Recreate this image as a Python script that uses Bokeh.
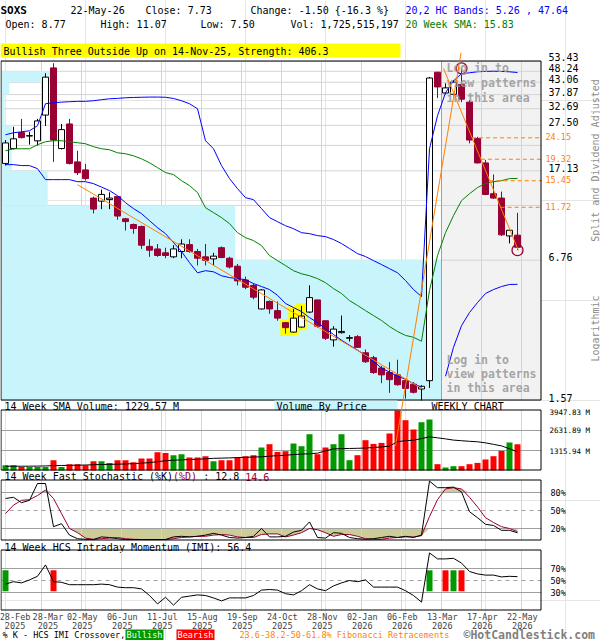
import math
import numpy as np
from bokeh.plotting import figure
from bokeh.models import Range1d, LogScale, LinearScale
from bokeh.embed import file_html
from bokeh.resources import INLINE
from bokeh.core.properties import value

FONT = "DejaVu Sans Mono"
NAN = float("nan")

# ---------------- weekly data, 28-Feb-2025 .. 22-May-2026 ----------------
symbol = "SOXS"
last_date = "22-May-26"

open_ = [18.5, 21.6, 25.5, 24.6, 23.4, 30.6, 50.0, 21.6, 27.9, 18.8,
         17.3, 12.9, 12.5, 12.7, 13.1, 10.4, 9.8, 9.6, 7.8, 7.6,
         7.3, 7.0, 7.4, 7.95, 7.4, 7.0, 6.85, 7.7, 6.9, 6.35,
         5.5, 5.2, 4.07, 4.4, 4.0, 3.53, 3.2, 3.37, 3.94, 4.47,
         3.6, 2.95, 3.18, 3.0, 3.05, 2.58, 2.45, 2.2, 2.1, 2.05,
         1.93, 1.86, 1.77, 1.93, 47.8, 38.5, 38.0, 42.1, 35.0, 24.0,
         18.6, 13.5, 12.9, 8.7, 8.77]
high = [23.6, 27.1, 29.4, 25.7, 29.4, 47.3, 52.5, 27.9, 29.4, 21.1,
        18.4, 13.1, 14.1, 13.7, 13.2, 10.5, 9.9, 9.7, 8.4, 8.0,
        7.7, 7.9, 8.4, 8.4, 7.6, 8.0, 7.3, 7.8, 7.0, 6.5,
        5.7, 5.3, 5.0, 4.45, 4.4, 3.55, 4.07, 4.2, 5.2, 4.47,
        3.6, 3.4, 3.8, 3.1, 3.1, 2.67, 2.5, 2.25, 2.34, 2.4,
        1.95, 1.9, 1.84, 45.5, 47.8, 42.6, 44.0, 49.75, 35.8, 24.4,
        19.2, 16.5, 13.8, 9.25, 11.07]
low = [18.1, 21.4, 24.0, 22.5, 22.3, 27.3, 18.8, 21.4, 18.3, 16.4,
       15.5, 11.0, 11.5, 11.5, 10.3, 9.2, 8.9, 7.6, 7.0, 7.0,
       6.9, 6.9, 6.9, 7.3, 6.4, 6.4, 6.4, 6.9, 6.2, 5.2,
       5.0, 4.5, 4.05, 3.87, 3.6, 3.15, 3.18, 3.35, 3.9, 3.35,
       2.95, 2.75, 3.15, 2.9, 2.72, 2.32, 2.07, 1.88, 1.7, 1.83,
       1.6, 1.69, 1.57, 1.79, 36.5, 38.0, 37.6, 35.0, 22.8, 18.5,
       13.3, 12.8, 8.7, 8.05, 7.50]
close = [22.9, 23.9, 24.2, 24.7, 28.8, 45.4, 23.6, 26.3, 18.5, 16.8,
         15.8, 11.5, 13.4, 12.9, 10.7, 10.1, 9.4, 7.9, 7.5, 7.1,
         7.1, 7.6, 8.0, 7.4, 6.9, 6.75, 7.05, 6.95, 6.3, 5.45,
         5.1, 4.6, 4.96, 4.07, 3.7, 3.35, 3.7, 3.78, 4.58, 3.4,
         3.0, 3.3, 3.22, 3.02, 2.73, 2.35, 2.1, 2.05, 1.95, 1.85,
         1.78, 1.71, 1.82, 45.0, 41.0, 40.6, 43.1, 36.1, 23.6, 18.6,
         13.4, 12.9, 8.8, 9.23, 7.73]

# 20,2 bands and 20 week SMA
upper_band = [24.94, 25.46, 25.7, 26.0, 27.39, 34.43, 34.8, 35.0, 35.16, 35.3,
              35.3, 35.52, 35.9, 36.25, 36.4, 36.63, 36.75, 36.83, 36.9, 36.9,
              36.83, 36.37, 35.52, 34.43, 32.68, 23.43, 21.55, 18.09, 15.8, 14.23,
              12.96, 12.69, 11.56, 10.53, 10.09, 9.68, 9.38, 9.0, 8.91, 8.73,
              8.64, 8.38, 8.04, 7.63, 7.24, 7.02, 6.73, 6.46, 6.19, 5.93,
              5.47, 4.98, 4.63, 21.55, 30.4, 38.59, 43.72, 47.02, 47.52, 48.01,
              48.2, 48.3, 48.2, 48.0, 47.64]
lower_band = [18.27, 18.27, 18.09, 18.09, 17.52, 15.63, 15.63, 15.63, 15.63, 15.3,
              15.3, 14.99, 14.46, 13.94, 13.23, 12.3, 11.56, 10.97, 10.2, 9.48,
              8.91, 8.12, 7.4, 6.59, 5.93, 6.06, 5.99, 5.75, 5.64, 5.58,
              5.52, 5.30, 5.14, 4.98, 4.69, 4.31, 4.13, 3.96, 3.72, 3.53,
              3.32, 3.12, 2.94, 2.79, 2.65, 2.51, 2.36, 2.20, 2.11, 2.02,
              1.96, 1.87, 1.80, NAN, NAN, 2.02, 2.73, 3.42, 3.92, 4.35,
              4.78, 4.98, 5.14, 5.25, 5.26]
sma20 = [21.11, 21.55, 21.55, 21.55, 22.48, 23.18, 23.43, 23.43, 23.18, 22.95,
         22.71, 22.02, 21.55, 21.33, 20.67, 20.46, 20.03, 19.41, 18.63, 17.71,
         16.82, 16.47, 15.46, 14.69, 13.66, 11.67, 11.09, 10.53, 9.89, 9.0,
         8.55, 8.29, 7.87, 7.09, 6.73, 6.39, 6.06, 5.87, 5.75, 5.58,
         5.35, 5.03, 4.78, 4.44, 4.22, 4.0, 3.8, 3.61, 3.39, 3.22,
         3.09, 3.03, 2.91, 4.93, 7.09, 9.0, 10.75, 12.56, 13.5, 14.39,
         15.0, 15.3, 15.46, 15.8, 15.83]

# volume in millions of shares and its 14 week SMA
volume_m = [349, 349, 237, 237, 237, 237, 678, 237, 415, 415,
            349, 612, 612, 500, 678, 678, 546, 790, 790, 1204,
            1158, 1007, 1072, 855, 855, 941, 612, 678, 678, 855,
            941, 1007, 1513, 1730, 1224, 1270, 1776, 1599, 2388, 1072,
            1513, 1730, 2388, 678, 1007, 1994, 1750, 1816, 2435, 3947.83,
            3310, 2698, 3178, 3356, 415, 197, 283, 283, 415, 500,
            724, 941, 1290, 1842, 1725.515197]
vol_sma14 = [281, 281, 281, 285, 290, 300, 320, 330, 340, 350,
             360, 380, 395, 405, 415, 430, 450, 480, 520, 580,
             640, 678, 700, 720, 740, 770, 800, 815, 830, 850,
             870, 885, 900, 940, 980, 1000, 1050, 1080, 1100, 1140,
             1290, 1420, 1440, 1450, 1460, 1480, 1510, 1553, 1600, 1900,
             1960, 1994, 2100, 2215, 2150, 2080, 2000, 1960, 1920, 1890,
             1820, 1720, 1620, 1430, 1229.57]

# 14 week fast stochastic
stoch_k = [70, 72, 63, 67, 95, 95, 23, 28, 9, 3,
           2, 1.6, 6, 5, 3, 1.6, 1.6, 1.6, 1.6, 1.6,
           1.6, 6, 7, 6, 7, 9, 12, 9, 5, 4,
           5, 7, 20, 6, 6, 7, 14, 17, 31, 5,
           4, 13, 12, 5, 3, 2, 3, 5, 7, 5,
           7, 5, 9, 99, 88, 88, 89, 81, 48, 38,
           27, 25, 17, 17, 12.8]
stoch_d = [45, 59, 67, 68, 75, 84, 70, 45, 20, 13,
           4, 2, 3, 4, 5, 3, 2, 1.6, 1.6, 1.6,
           1.6, 3, 5, 6, 7, 7, 9, 10, 9, 6,
           5, 5, 10, 11, 11, 6, 9, 13, 20, 18,
           13, 7, 10, 10, 7, 3, 2, 2, 4, 5,
           6, 6, 8, 40, 68, 86, 88, 86, 72, 56,
           38, 30, 23, 20, 14.6]

# 14 week HCS intraday momentum
imi = [44, 48, 46, 51, 57, 76, 48, 47, 43, 43,
       43, 43, 44, 43, 39, 38, 38, 36, 25, 11,
       22, 9, 22, 24, 26, 25, 21, 16, 21, 21,
       21, 25, 34, 35, 34, 28, 26, 33, 43, 36,
       33, 41, 46, 50, 48, 51, 39, 39, 39, 39,
       33, 25, 14, 96, 86, 86, 87, 79, 65, 61,
       59, 59, 56, 57, 56.4]
xover_week = [0, 6, 53, 55, 56, 57]
xover_kind = ["Bullish", "Bearish", "Bullish", "Bearish", "Bullish", "Bearish"]

# price scale, fibonacci levels, volume-by-price
price_grid = [1.57, 6.76, 11.94, 17.13, 22.32, 27.50, 32.69, 37.87, 43.06, 48.24, 53.43]
price_labels = [1.57, 6.76, 17.13, 27.50, 32.69, 37.87, 43.06, 48.24, 53.43]
fib_high, fib_low = 49.75, 7.50
fib_levels = [24.15, 19.32, 15.45, 11.72]
vbp_rel = [100, 53.1, 10.5, 2.3, 2.3, 0.7, 0.7, 1.8, 11.4, 0]   # per price band, bottom to top

# chart annotations: trend lines as (week, price) pairs, pattern candles
trend_lines = [((9.0, 14.83), (52.0, 1.78)),
               ((48.75, 0.98), (56.94, 58.5)),
               ((54.75, fib_high), (64.1, fib_low))]
pattern_weeks = [35, 36, 37]
pattern_text = "Bullish Three Outside Up on 14-Nov-25, Strength: 406.3"

tick_week = [0, 4, 9, 14, 19, 24, 29, 34, 39, 44, 49, 54, 59, 64]
tick_day = ["28-Feb", "28-Mar", "02-May", "06-Jun", "11-Jul", "15-Aug", "19-Sep",
            "24-Oct", "28-Nov", "02-Jan", "06-Feb", "13-Mar", "17-Apr", "22-May"]
tick_year = ["2025"] * 9 + ["2026"] * 5

# ---------------- page geometry and styling ----------------
W, H = 600, 640
PX_PER_WEEK = 8.0
PANEL = {"price": (61, 400), "vol": (410, 470), "sto": (480, 540), "imi": (550, 610)}
FRAME_X = (0.5, 540.5)

RED = "#990033"
VOL_GREEN = "#009900"
VOL_RED = "#ff0000"
ORANGE = "#ff7f00"
CYAN = "#c8f4fb"
GRID = "#d4d4d4"
LINE_GRAY = "#a0a0a0"

weeks = np.arange(len(close))
o = np.array(open_); h = np.array(high); l = np.array(low); c = np.array(close)
up = c >= o
X0, X1 = -0.5, 67.0                       # plotted week span (frame edges)
XL = X0 - 1 / PX_PER_WEEK                 # canvas edge, one pixel left of the frame
grid_weeks = [w + 0.5 for w in tick_week[1:]]
pattern_start = 54.5
vmax = max(volume_m)


def lin_range(v0, v1, pix_bottom, pix_top):
    per = (v1 - v0) / (pix_bottom - pix_top)
    return Range1d(v0 - (H - pix_bottom) * per, v1 + pix_top * per)


def log_range(v0, v1, pix_bottom, pix_top):
    a, b = math.log(v0), math.log(v1)
    per = (b - a) / (pix_bottom - pix_top)
    return Range1d(math.exp(a - (H - pix_bottom) * per), math.exp(b + pix_top * per))


p = figure(width=W, height=H, x_range=Range1d(XL, XL + W / PX_PER_WEEK), y_range=Range1d(H, 0),
           x_axis_location=None, y_axis_location=None, toolbar_location=None,
           output_backend="svg", min_border=0)
p.outline_line_color = None
p.extra_x_ranges = {"px": Range1d(0, W)}
p.extra_x_scales = {"px": LinearScale()}
p.extra_y_ranges = {
    "price": log_range(price_grid[0], price_grid[-1], PANEL["price"][1], PANEL["price"][0]),
    "vol": lin_range(0, vmax, PANEL["vol"][1], PANEL["vol"][0]),
    "sto": lin_range(0, 100, PANEL["sto"][1], PANEL["sto"][0]),
    "imi": lin_range(0, 100, PANEL["imi"][1], PANEL["imi"][0]),
}
p.extra_y_scales = {"price": LogScale(), "vol": LinearScale(), "sto": LinearScale(), "imi": LinearScale()}


def T(x, y, s, color="black", size="10px", align="left", bold=False, alpha=1.0,
      yoff=0, angle=0.0, xr="px", yr="default"):
    p.text(x=[x], y=[y], text=[s], text_color=color, text_font=value(FONT),
           text_font_size=size, text_align=align, text_baseline="middle",
           text_font_style="bold" if bold else "normal", text_alpha=alpha,
           y_offset=yoff, angle=angle, x_range_name=xr, y_range_name=yr)


def vgrid(name):
    top, bot = PANEL[name]
    p.segment(x0=grid_weeks, x1=grid_weeks, y0=top, y1=bot, line_color=GRID, line_width=1)


def hlines(levels, name, color=LINE_GRAY, dash="solid"):
    p.segment(x0=X0, x1=X1, y0=levels, y1=levels, line_color=color, line_width=1,
              line_dash=dash, y_range_name=name)


def frame(name):
    top, bot = PANEL[name]
    p.segment(x0=list(FRAME_X), x1=list(FRAME_X), y0=top - 0.5, y1=bot - 0.5,
              line_color="black", line_width=1, x_range_name="px")
    p.segment(x0=FRAME_X[0], x1=FRAME_X[1], y0=[top - 0.5, bot - 0.5], y1=[top - 0.5, bot - 0.5],
              line_color="black", line_width=1, x_range_name="px")


# ---------------- header ----------------
chg = close[-1] - close[-2]
T(0, 9.5, symbol, bold=True, size="11px")
T(70, 9.5, last_date)
T(145, 9.5, f"Close: {close[-1]:.2f}")
T(250, 9.5, f"Change: {chg:.2f} {{{chg / close[-2] * 100:.1f} %}}")
T(405, 9.5, f"20,2 HC Bands: {lower_band[-1]:.2f} , {upper_band[-1]:.2f}", color="#0000ff")
T(5, 23.5, f"Open: {open_[-1]:.2f}")
T(100, 23.5, f"High: {high[-1]:.2f}")
T(200, 23.5, f"Low: {low[-1]:.2f}")
T(290, 23.5, f"Vol: {int(round(volume_m[-1] * 1e6)):,}")
T(405, 23.5, f"20 Week SMA: {sma20[-1]:.2f}", color="#008000")
p.quad(left=0, right=400, top=43, bottom=57, fill_color="#ffff00", line_color=None, x_range_name="px")
T(3, 50.5, pattern_text)

# ---------------- price panel ----------------
PR = dict(y_range_name="price")
p.quad(left=pattern_start, right=X1, bottom=price_grid[0], top=price_grid[-1],
       fill_color="#f2f2f2", line_color=None, **PR)
hlines(price_grid, "price", color=GRID)
vgrid("price")

# volume by price, longest bar reaching the pattern zone
vbp_len = np.array(vbp_rel) / 100.0 * (pattern_start - X0)
p.quad(left=X0, right=X0 + vbp_len, bottom=price_grid[:-1], top=price_grid[1:],
       fill_color=CYAN, line_color=None, **PR)
p.segment(x0=pattern_start, x1=pattern_start, y0=price_grid[0], y1=price_grid[-1],
          line_color=LINE_GRAY, line_width=1, **PR)

# highlighted pattern candles
pw = np.array(pattern_weeks)
p.quad(left=pw - 0.65, right=pw + 0.65, bottom=l[pw] * 0.975, top=h[pw] * 1.03,
       fill_color="#ffff00", line_color=None, **PR)

# candles
wick_col = ["black" if u else RED for u in up]
body_fill = ["white" if u else RED for u in up]
p.segment(x0=weeks, x1=weeks, y0=l, y1=h, line_color=wick_col, line_width=1, **PR)
p.vbar(x=weeks, width=0.75, top=np.maximum(o, c), bottom=np.minimum(o, c),
       fill_color=body_fill, line_color=wick_col, line_width=1, **PR)

# bands and SMA
p.line(weeks, upper_band, line_color="#0000ff", line_width=1, **PR)
p.line(weeks, lower_band, line_color="#0000ff", line_width=1, **PR)
p.line(weeks, sma20, line_color="#008000", line_width=1, **PR)

# fibonacci retracement levels start where the falling line meets them
(fa_w, fa_p), (fb_w, fb_p) = trend_lines[2]
fib_start = [fa_w + (math.log(fa_p) - math.log(f)) / (math.log(fa_p) - math.log(fb_p)) * (fb_w - fa_w)
             for f in fib_levels]
p.segment(x0=fib_start, x1=X1, y0=fib_levels, y1=fib_levels,
          line_color=ORANGE, line_width=1, line_dash="4 3", **PR)

# swing high / low markers
p.scatter(x=[57, 64], y=[high[57], low[64]], marker="circle", size=11,
          fill_color=None, line_color=RED, line_width=1.3, **PR)

for yv, s in zip([49.9, 42.8, 36.6], ["Log in to", "view patterns", "in this area"]):
    T(446, yv, s, color="#9a9a9a", size="11.5px", bold=True, alpha=0.9, yr="price")
for yv, s in zip([2.40, 2.06, 1.78], ["Log in to", "view patterns", "in this area"]):
    T(446, yv, s, color="#9a9a9a", size="11.5px", bold=True, alpha=0.9, yr="price")

frame("price")
for v in price_labels:
    T(548, v, f"{v:.2f}", yoff=-5 if v == price_grid[-1] else -3, yr="price")
for f in fib_levels:
    T(545, f, f"{f:.2f}", color=ORANGE, size="8.5px", yoff=-1, yr="price")
T(595, 160, "Split and Dividend Adjusted", color="#8c8c8c", angle=math.pi / 2, align="center")
T(595, 328, "Logarithmic", color="#8c8c8c", angle=math.pi / 2, align="center")

# ---------------- volume ----------------
T(4, 405.5, f"14 Week SMA Volume: {vol_sma14[-1]:.2f} M")
p.quad(left=274, right=397, top=400, bottom=410, fill_color=CYAN, line_color=None, x_range_name="px")
T(276, 405.5, "Volume By Price")
T(431, 405.5, "WEEKLY CHART")

VR = dict(y_range_name="vol")
vgrid("vol")
vol_levels = [vmax / 3, 2 * vmax / 3, vmax]
hlines(vol_levels[:2], "vol")
p.vbar(x=weeks, top=volume_m, width=0.75, line_color=None,
       fill_color=[VOL_GREEN if u else VOL_RED for u in up], **VR)
p.line(weeks, vol_sma14, line_color="black", line_width=1, **VR)
frame("vol")
for v, yo in zip(vol_levels, [1, 0, 2]):
    T(549, v, f"{v:.2f} M", size="7.5px", yoff=yo, yr="vol")

# ---------------- stochastic ----------------
cw = 6.02
t1 = "14 Week Fast Stochastic (%K)"
t2 = "(%D)"
t3 = f": {stoch_k[-1]:.1f}"
t4 = f"{stoch_d[-1]:.1f}"
x2 = 4 + cw * len(t1)
x3 = x2 + cw * (len(t2) + 1)
x4 = x3 + cw * (len(t3) + 1)
T(4, 476, t1)
T(x2, 476, t2, color=RED)
T(x3, 476, t3)
T(x4, 476, t4, color=RED)

SR = dict(y_range_name="sto")
d = np.array(stoch_d)
p.varea(x=weeks, y1=np.minimum(d, 20), y2=20, fill_color="#cccc99", **SR)
p.varea(x=weeks, y1=80, y2=np.maximum(d, 80), fill_color="#cccc99", **SR)
vgrid("sto")
hlines([20, 80], "sto")
hlines([50], "sto", dash="4 4")
p.line(weeks, stoch_d, line_color=RED, line_width=1, **SR)
p.line(weeks, stoch_k, line_color="black", line_width=1, **SR)
frame("sto")
for v in [80, 50, 20]:
    T(550, v, f"{v}%", size="8.5px", yr="sto")

# ---------------- IMI ----------------
T(4, 546.5, f"14 Week HCS Intraday Momentum (IMI): {imi[-1]:.1f}")
IR = dict(y_range_name="imi")
vgrid("imi")
hlines([30, 70], "imi")
hlines([50], "imi", dash="4 4")
p.vbar(x=xover_week, width=0.75, bottom=32, top=67, line_color=None,
       fill_color=[VOL_GREEN if k == "Bullish" else VOL_RED for k in xover_kind], **IR)
p.line(weeks, imi, line_color="black", line_width=1, **IR)
frame("imi")
for v in [70, 50, 30]:
    T(550, v, f"{v}%", size="8.5px", yr="imi")

# rising trend line runs across the price and volume panels
(ra_w, ra_p), (rb_w, rb_p) = trend_lines[1]
p.segment(x0=[trend_lines[0][0][0], trend_lines[2][0][0]], y0=[trend_lines[0][0][1], trend_lines[2][0][1]],
          x1=[trend_lines[0][1][0], trend_lines[2][1][0]], y1=[trend_lines[0][1][1], trend_lines[2][1][1]],
          line_color=ORANGE, line_width=1, **PR)
p.segment(x0=ra_w, y0=ra_p, x1=rb_w, y1=rb_p, line_color=ORANGE, line_width=1, **PR)

# ---------------- date axis and footer ----------------
label_x = [w + 0.6 for w in tick_week]
label_x[0] += 0.6   # keep the first label inside the canvas
label_x[1] += 0.7   # keep the first two labels apart
p.text(x=label_x, y=[616] * len(label_x), text=tick_day, text_font=value(FONT),
       text_font_size="8.5px", text_align="center", text_baseline="middle", text_color="#444444")
p.text(x=label_x, y=[624.5] * len(label_x), text=tick_year, text_font=value(FONT),
       text_font_size="8.5px", text_align="center", text_baseline="middle", text_color="#444444")

T(2, 634.5, "% K - HCS IMI Crossover,", size="8.5px")
p.quad(left=[125, 176], right=[163, 214], top=629, bottom=640, fill_color=[VOL_GREEN, VOL_RED],
       line_color=None, x_range_name="px")
T(144, 634.5, "Bullish", color="white", size="8.5px", align="center")
T(195, 634.5, "Bearish", color="white", size="8.5px", align="center")
T(239, 634.5, "23.6-38.2-50-61.8% Fibonacci Retracements", color=ORANGE, size="8.5px")
T(463, 634, "\u00a9HotCandlestick.com", color="#808080", size="11.5px", bold=True)

open("out.html", "w").write(file_html(p, INLINE))
